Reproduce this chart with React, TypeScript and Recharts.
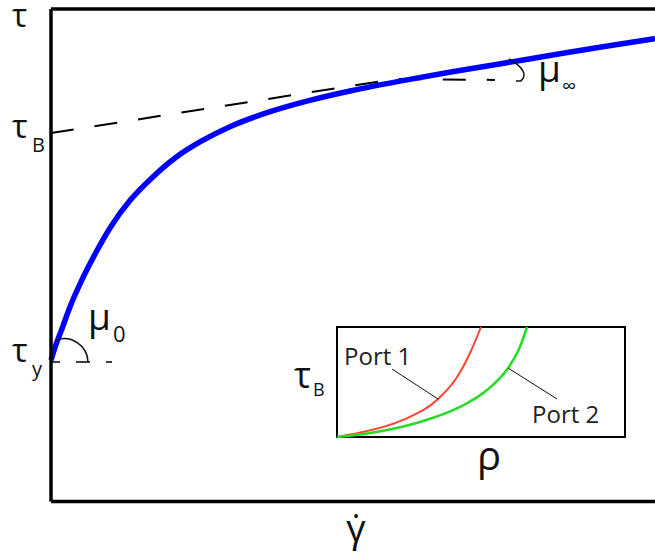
import React from "react";
import {
  LineChart,
  Line,
  XAxis,
  YAxis,
  ReferenceLine,
  ReferenceDot,
  ReferenceArea,
} from "recharts";

// main flow curve (shear rate vs shear stress), arbitrary units 0-100
const shearRate = [0, 0.8, 1.7, 3.3, 5.0, 7.5, 9.9, 13.2, 16.6, 20.7, 24.8, 29.8, 36.4, 43.0, 49.7, 58.0, 66.2, 74.5, 82.8, 91.1, 100];
const shearStress = [28.7, 31.8, 34.7, 40.0, 44.7, 50.7, 55.8, 61.3, 65.6, 69.9, 73.1, 76.2, 79.2, 81.5, 83.4, 85.4, 87.2, 88.9, 90.6, 92.3, 94.0];

// asymptote (dashed) and yield level
const tauB = 74.8;
const tauY = 28.3;
const asymptoteX = [0, 57.0, 73.5];
const asymptoteY = [tauB, 85.8, 85.6];
const yieldX = [0, 10.1];

// inset: tau_B vs density for the two ports
const rhoPort1 = [0, 5.6, 22.9, 35.1, 41.7, 46.2, 50];
const tauPort1 = [0, 2.7, 15.5, 34.5, 54.5, 76.4, 100];
const rhoPort2 = [0, 11.5, 28.8, 42.7, 52.1, 59.4, 63.5, 66];
const tauPort2 = [0, 3.6, 13.6, 27.3, 42.7, 62.7, 81.8, 100];

const FONT = '"Open Sans", sans-serif';

const zip = (xs: number[], ys: number[]) => xs.map((x, i) => ({ x, y: ys[i] }));

const flowData = zip(shearRate, shearStress);
const asymptoteData = zip(asymptoteX, asymptoteY);
const yieldData = yieldX.map((x) => ({ x, y: tauY }));
const port1Data = zip(rhoPort1, tauPort1);
const port2Data = zip(rhoPort2, tauPort2);

const TauTick = (props: any) => {
  const { y, payload } = props;
  const v = payload.value;
  if (v === 100) {
    return (
      <text x={12} y={y + 18} fontFamily={FONT} fontSize={32} fill="#111">
        τ
      </text>
    );
  }
  const sub = v === tauB ? "B" : "y";
  const dy = v === tauB ? 5 : 0;
  return (
    <g>
      <text x={12} y={y + dy} fontFamily={FONT} fontSize={33} fill="#111">
        τ
      </text>
      <text x={32} y={y + dy + 14} fontFamily={FONT} fontSize={20} fill="#111">
        {sub}
      </text>
    </g>
  );
};

const MuZero = ({ cx, cy }: any) => (
  <g>
    <path d={`M ${cx + 5} ${cy - 22} A 24 24 0 0 1 ${cx + 37} ${cy}`} fill="none" stroke="#111" strokeWidth={1.5} />
    <text x={cx + 37} y={cy - 32} fontFamily={FONT} fontSize={37} fill="#111">μ</text>
    <text x={cx + 62} y={cy - 20} fontFamily={FONT} fontSize={22} fill="#111">0</text>
  </g>
);

const MuInf = ({ cx, cy }: any) => (
  <g>
    <path
      d={`M ${cx + 14} ${cy - 21} Q ${cx + 36} ${cy - 8} ${cx + 26} ${cy + 1} L ${cx + 21} ${cy + 1}`}
      fill="none"
      stroke="#111"
      strokeWidth={1.5}
    />
    <text x={cx + 43} y={cy + 2} fontFamily={FONT} fontSize={37} fill="#111">μ</text>
    <text x={cx + 67} y={cy + 13} fontFamily={FONT} fontSize={20} fill="#111">∞</text>
  </g>
);

const GammaDot = ({ cx, cy }: any) => (
  <text x={cx} y={cy + 40} textAnchor="middle" fontFamily={FONT} fontSize={38} fill="#111">
    γ̇
  </text>
);

const Port1Label = ({ cx, cy }: any) => (
  <g>
    <line x1={cx - 46} y1={cy - 30} x2={cx} y2={cy} stroke="#111" strokeWidth={1} />
    <text x={cx - 94} y={cy - 34} fontFamily={FONT} fontSize={24} fill="#222">Port 1</text>
  </g>
);

const Port2Label = ({ cx, cy }: any) => (
  <g>
    <line x1={cx} y1={cy} x2={cx + 49} y2={cy + 31} stroke="#111" strokeWidth={1} />
    <text x={cx + 24} y={cy + 55} fontFamily={FONT} fontSize={24} fill="#222">Port 2</text>
  </g>
);

const RhoLabel = ({ cx, cy }: any) => (
  <text x={cx + 8} y={cy + 33} textAnchor="middle" fontFamily={FONT} fontSize={40} fill="#111">ρ</text>
);

const InsetTau = ({ cx, cy }: any) => (
  <g>
    <text x={cx - 43} y={cy + 6} fontFamily={FONT} fontSize={36} fill="#111">τ</text>
    <text x={cx - 24} y={cy + 14} fontFamily={FONT} fontSize={18} fill="#111">B</text>
  </g>
);

export default function App() {
  return (
    <div
      style={{
        position: "absolute",
        left: 0,
        top: 0,
        width: 655,
        height: 556,
        background: "#fff",
        overflow: "hidden",
      }}
    >
      <LineChart width={655} height={556} margin={{ top: 9, right: 0, bottom: 0, left: 0 }}>
        <XAxis
          type="number"
          dataKey="x"
          domain={[0, 100]}
          tick={false}
          tickLine={false}
          height={54.5}
          axisLine={{ stroke: "#000", strokeWidth: 3.5 }}
        />
        <YAxis
          type="number"
          dataKey="y"
          domain={[0, 100]}
          ticks={[tauY, tauB, 100]}
          interval={0}
          tick={<TauTick />}
          tickLine={false}
          width={51}
          axisLine={{ stroke: "#000", strokeWidth: 3.5 }}
        />
        <ReferenceLine y={100} stroke="#000" strokeWidth={3.5} />
        <Line
          data={asymptoteData}
          dataKey="y"
          type="linear"
          stroke="#000"
          strokeWidth={2}
          strokeDasharray="23 21"
          dot={false}
          isAnimationActive={false}
        />
        <Line
          data={yieldData}
          dataKey="y"
          type="linear"
          stroke="#000"
          strokeWidth={1.5}
          strokeDasharray="14 16"
          strokeDashoffset={5}
          dot={false}
          isAnimationActive={false}
        />
        <Line
          data={flowData}
          dataKey="y"
          type="monotone"
          stroke="#0000ff"
          strokeWidth={5.5}
          dot={false}
          isAnimationActive={false}
        />
        <ReferenceDot x={0} y={tauY} shape={MuZero} ifOverflow="visible" />
        <ReferenceDot x={asymptoteX[2]} y={asymptoteY[2]} shape={MuInf} ifOverflow="visible" />
        <ReferenceDot x={50.5} y={0} shape={GammaDot} ifOverflow="visible" />
      </LineChart>

      <div style={{ position: "absolute", left: 280, top: 320 }}>
        <LineChart width={350} height={170} margin={{ top: 7, right: 5, bottom: 53, left: 57 }}>
          <XAxis type="number" dataKey="x" domain={[0, 100]} hide />
          <YAxis type="number" dataKey="y" domain={[0, 100]} hide />
          <ReferenceArea x1={0} x2={100} y1={0} y2={100} fill="#fff" fillOpacity={1} stroke="#000" strokeWidth={2} />
          <Line
            data={port1Data}
            dataKey="y"
            type="monotone"
            stroke="#ff4433"
            strokeWidth={2}
            dot={false}
            isAnimationActive={false}
          />
          <Line
            data={port2Data}
            dataKey="y"
            type="monotone"
            stroke="#22dd22"
            strokeWidth={2.5}
            dot={false}
            isAnimationActive={false}
          />
          <ReferenceDot x={rhoPort1[3]} y={tauPort1[3]} shape={Port1Label} ifOverflow="visible" />
          <ReferenceDot x={rhoPort2[5]} y={tauPort2[5]} shape={Port2Label} ifOverflow="visible" />
          <ReferenceDot x={50} y={0} shape={RhoLabel} ifOverflow="visible" />
          <ReferenceDot x={0} y={50} shape={InsetTau} ifOverflow="visible" />
        </LineChart>
      </div>
    </div>
  );
}
